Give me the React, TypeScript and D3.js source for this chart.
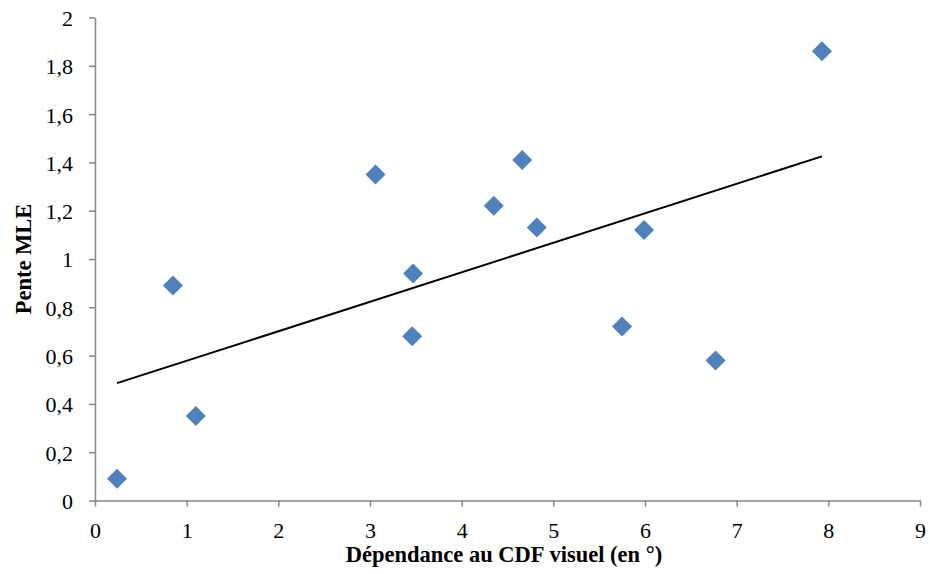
import { useEffect, useRef } from 'react';
import * as d3 from 'd3';

// Data
const xValues = [0.24, 0.85, 1.1, 3.06, 3.47, 3.46, 4.35, 4.66, 4.82, 5.75, 5.99, 6.77, 7.93];
const yValues = [0.09, 0.89, 0.35, 1.35, 0.94, 0.68, 1.22, 1.41, 1.13, 0.72, 1.12, 0.58, 1.86];
const xTicks = [0, 1, 2, 3, 4, 5, 6, 7, 8, 9];
const yTicks = [0, 0.2, 0.4, 0.6, 0.8, 1, 1.2, 1.4, 1.6, 1.8, 2];

const xTitle = 'Dépendance au CDF visuel (en °)';
const yTitle = 'Pente MLE';

const WIDTH = 930;
const HEIGHT = 574;
const FONT = '"Liberation Serif", "Times New Roman", serif';
const AXIS_COLOR = '#868686';
const MARKER_COLOR = '#4f81bd';

export default function App() {
  const svgRef = useRef<SVGSVGElement>(null);

  useEffect(() => {
    if (!svgRef.current) return;
    const svg = d3.select(svgRef.current);
    svg.selectAll('*').remove();

    const x = d3.scaleLinear().domain([0, 9]).range([95, 920]);
    const y = d3.scaleLinear().domain([0, 2]).range([500.5, 17.5]);

    const fmt = (v: number) => String(v).replace('.', ',');

    // y axis
    const yAxis = svg
      .append('g')
      .attr('transform', `translate(${x(0)},0)`)
      .attr('font-family', FONT)
      .attr('font-size', 22)
      .call(d3.axisLeft(y).tickValues(yTicks).tickSize(6).tickSizeOuter(0).tickFormat((d) => fmt(+d)));
    yAxis.attr('font-family', FONT).attr('font-size', 22);
    yAxis.select('.domain').attr('stroke', AXIS_COLOR).attr('stroke-width', 1.5);
    yAxis.selectAll('.tick line').attr('stroke', AXIS_COLOR).attr('stroke-width', 1.5);
    yAxis
      .selectAll('.tick text')
      .attr('x', -22)
      .attr('dy', '0.36em')
      .attr('fill', '#000');

    // x axis
    const xAxis = svg
      .append('g')
      .attr('transform', `translate(0,${y(0)})`)
      .call(d3.axisBottom(x).tickValues(xTicks).tickSize(6).tickSizeOuter(0).tickFormat((d) => fmt(+d)));
    xAxis.attr('font-family', FONT).attr('font-size', 22);
    xAxis.select('.domain').attr('stroke', AXIS_COLOR).attr('stroke-width', 1.5);
    xAxis.selectAll('.tick line').attr('stroke', AXIS_COLOR).attr('stroke-width', 1.5);
    xAxis
      .selectAll('.tick text')
      .attr('y', 37)
      .attr('dy', 0)
      .attr('fill', '#000');

    // linear trend line (least squares)
    const mx = d3.mean(xValues) as number;
    const my = d3.mean(yValues) as number;
    let num = 0;
    let den = 0;
    xValues.forEach((xv, i) => {
      num += (xv - mx) * (yValues[i] - my);
      den += (xv - mx) * (xv - mx);
    });
    const slope = num / den;
    const intercept = my - slope * mx;
    const [x0, x1] = d3.extent(xValues) as [number, number];
    svg
      .append('line')
      .attr('x1', x(x0))
      .attr('y1', y(intercept + slope * x0))
      .attr('x2', x(x1))
      .attr('y2', y(intercept + slope * x1))
      .attr('stroke', '#000')
      .attr('stroke-width', 2);

    // markers
    const diamond = d3.symbol().type(d3.symbolSquare).size(200);
    svg
      .append('g')
      .selectAll('path')
      .data(xValues.map((xv, i) => [xv, yValues[i]]))
      .enter()
      .append('path')
      .attr('d', diamond)
      .attr('transform', (d) => `translate(${x(d[0])},${y(d[1])}) rotate(45)`)
      .attr('fill', MARKER_COLOR);

    // titles
    svg
      .append('text')
      .attr('x', 504)
      .attr('y', 562)
      .attr('text-anchor', 'middle')
      .style('font-family', FONT)
      .style('font-size', '22.5px')
      .style('font-weight', 'bold')
      .text(xTitle);

    svg
      .append('text')
      .attr('transform', `translate(31,259) rotate(-90)`)
      .attr('text-anchor', 'middle')
      .style('font-family', FONT)
      .style('font-size', '22.5px')
      .style('font-weight', 'bold')
      .text(yTitle);
  }, []);

  return (
    <svg
      ref={svgRef}
      width={WIDTH}
      height={HEIGHT}
      style={{ position: 'absolute', top: 0, left: 0, background: '#fff' }}
    />
  );
}
